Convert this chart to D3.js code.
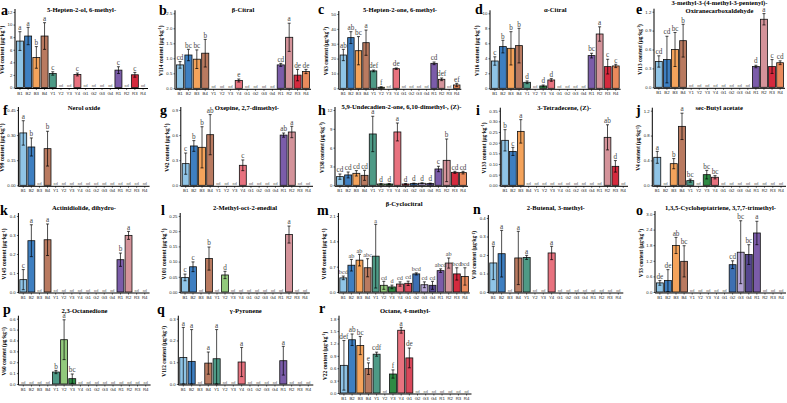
<!DOCTYPE html>
<html>
<head>
<meta charset="utf-8">
<script src="https://cdn.jsdelivr.net/npm/d3@7/dist/d3.min.js"></script>
<style>
  body { margin: 0; background: #fff; }
  svg { display: block; font-family: "Liberation Serif", "Times New Roman", serif; }
</style>
</head>
<body>
<svg id="chart" width="787" height="403"></svg>
<script>
// groups on the x axis of every panel
const groups = ["B1","B2","B3","B4","Y1","Y2","Y3","Y4","G1","G2","G3","G4","R1","R2","R3","R4"];
const groupColors = ["#8fc4e6","#3e7fc1","#f4a35b","#b97a60","#4e9a86","#92c97c","#2e8a44","#e8727f",
                     "#d9475a","#3d6fb2","#b4a4d4","#56478f","#7b5ca9","#d4939a","#d42a3e","#e98a5c"];

const letters = ["a","b","c","d","e","f","g","h","i","j","k","l","m","n","o","p","q","r"];
const titles = [
  ["5-Hepten-2-ol, 6-methyl-"], ["β-Citral"], ["5-Hepten-2-one, 6-methyl-"], ["α-Citral"],
  ["3-methyl-3-(4-methyl-3-pentenyl)-", "Oxiranecarboxaldehyde"],
  ["Nerol oxide"], ["Oxepine, 2,7-dimethyl-"], ["5,9-Undecadien-2-one, 6,10-dimethyl-, (Z)-"],
  ["3-Tetradecene, (Z)-"], ["sec-Butyl acetate"],
  ["Actinidiolide, dihydro-"], ["2-Methyl-oct-2-enedial"], ["β-Cyclocitral"], ["2-Butenal, 3-methyl-"],
  ["1,3,5-Cycloheptatriene, 3,7,7-trimethyl-"],
  ["2,3-Octanedione"], ["γ-Pyronene"], ["Octane, 4-methyl-"]
];
const yCodes = ["V64","V114","V63","V116","V113","V99","V42","V138","V133","V4",
                "V145","V101","V109","V10","V53","V60","V112","V22"];

const yTicks = [
  [0,2,4,6,8,10,12], [0,0.5,1,1.5,2,2.5], [0,10,20,30,40,50], [0,2,4,6,8,10], [0,0.3,0.6,0.9,1.2],
  [0,0.15,0.3,0.45], [0,0.3,0.6,0.9], [0,3,6,9,12], [0,0.05,0.1,0.15,0.2,0.25,0.3,0.35], [0,0.4,0.8,1.2],
  [0,0.1,0.2,0.3,0.4], [0,0.05,0.1,0.15,0.2,0.25], [0,0.7,1.4,2.1], [0,0.1,0.2,0.3,0.4], [0,0.6,1.2,1.8,2.4,3.0],
  [0,0.1,0.2,0.3,0.4,0.5,0.6], [0,0.1,0.2,0.3], [0,0.3,0.6,0.9,1.2,1.5,1.8]
];
const yFormats = ["d",".1f","d","d",".1f", ".2f",".1f","d",".2f",".1f", ".1f",".2f",".1f",".1f",".1f", ".1f",".1f",".1f"];

// means (null = nd), standard deviations and significance letters
const a_mean = [7.38,8.18,4.78,8.18,2.23,null,null,2.07,null,null,null,null,2.76,null,2.02,null];
const a_sd   = [1.49,1.38,1.72,2.12,0.27,0,0,0.23,0,0,0,0,0.54,0,0.38,0];
const a_sig  = ["a","a","b","a","c","","","c","","","","","c","","c",""];

const b_mean = [0.78,1.11,0.97,1.17,null,null,null,0.26,null,null,null,null,0.78,1.70,0.44,0.56];
const b_sd   = [0.11,0.19,0.31,0.46,0,0,0,0.05,0,0,0,0,0.05,0.47,0.19,0.07];
const b_sig  = ["cd","bc","bc","b","","","","e","","","","","cd","a","de","de"];

const c_mean = [22.4,34.1,25.3,30.7,11.7,0.7,null,13.2,null,null,null,null,16.8,6.05,null,2.24];
const c_sd   = [3.8,4.0,9.5,8.5,0.6,0.4,0,0.5,0,0,0,0,0.9,0.9,0,1.1];
const c_sig  = ["ab","ab","bc","a","def","f","","de","","","","","cd","def","","ef"];

const d_mean = [3.64,5.56,5.33,5.69,0.8,null,0.31,1.11,null,null,null,null,4.36,7.24,2.89,2.98];
const d_sd   = [0.56,0.84,2.22,2.31,0.18,0,0.13,0.18,0,0,0,0,0.31,0.96,0.98,0.22];
const d_sig  = ["c","b","b","b","d","","d","d","","","","","bc","a","c","c"];

const e_mean = [0.41,0.44,0.60,0.74,null,null,null,null,null,null,null,null,0.33,1.08,0.33,0.39];
const e_sd   = [0.09,0.37,0.27,0.26,0,0,0,0,0,0,0,0,0.02,0.09,0.11,0.03];
const e_sig  = ["cd","cd","bc","b","","","","","","","","","d","a","c","cd"];

const f_mean = [0.313,0.229,null,0.219,null,null,null,null,null,null,null,null,null,null,null,null];
const f_sd   = [0.073,0.054,0,0.104,0,0,0,0,0,0,0,0,0,0,0,0];
const f_sig  = ["a","b","","b","","","","","","","","","","","",""];

const g_mean = [0.259,0.47,0.454,0.605,null,null,null,0.239,null,null,null,null,0.60,0.637,null,null];
const g_sd   = [0.127,0.064,0.246,0.24,0,0,0,0.064,0,0,0,0,0.025,0.068,0,0];
const g_sig  = ["c","b","b","ab","","","","c","","","","","ab","a","",""];

const h_mean = [1.38,1.65,1.91,1.59,8.18,0.21,0.21,8.5,0.21,0.27,0.32,0.27,2.6,3.98,2.07,2.02];
const h_sd   = [0.42,0.47,0.43,0.8,2.82,0.08,0.08,1.43,0.08,0.08,0.08,0.08,0.43,3.4,0.16,0.21];
const h_sig  = ["cd","cd","cd","cd","a","d","d","a","d","d","d","d","c","b","cd","cd"];

const i_mean = [0.211,0.159,0.253,null,null,null,null,null,null,null,null,null,null,0.225,0.089,null];
const i_sd   = [0.05,0.019,0.055,0,0,0,0,0,0,0,0,0,0,0.059,0.027,0];
const i_sig  = ["b","c","a","","","","","","","","","","","ab","d",""];

const j_mean = [0.45,null,0.348,0.948,0.075,null,0.171,0.129,null,null,null,null,null,null,null,null];
const j_sd   = [0.096,0,0.082,0.212,0.025,0,0.069,0.026,0,0,0,0,0,0,0,0];
const j_sig  = ["a","","b","a","bc","","bc","bc","","","","","","","",""];

const k_mean = [0.065,0.27,null,0.275,null,null,null,null,null,null,null,null,0.17,0.298,null,null];
const k_sd   = [0.053,0.084,0,0.083,0,0,0,0,0,0,0,0,0.035,0.021,0,0];
const k_sig  = ["c","a","","a","","","","","","","","","b","a","",""];

const l_mean = [0.048,0.083,null,0.11,null,0.056,null,null,null,null,null,null,null,0.189,null,null];
const l_sd   = [0.011,0.016,0,0.038,0,0.012,0,0,0,0,0,0,0,0.028,0,0];
const l_sig  = ["c","c","","b","","d","","","","","","","","a","",""];

const m_mean = [0.39,0.74,0.88,0.67,0.99,0.185,0.14,0.22,0.24,0.5,0.2,0.185,0.59,0.8,0.5,0.43];
const m_sd   = [0.05,0.16,0.16,0.25,0.88,0.11,0.05,0.06,0.06,0.03,0.08,0.11,0.05,0.14,0.17,0.24];
const m_sig  = ["bcd","ab","ab","abc","a","cd","d","cd","cd","bcd","cd","cd","abcd","ab","bcd","bcd"];

const n_mean = [0.157,0.207,null,0.184,0.187,null,null,0.211,null,null,null,null,null,null,null,null];
const n_sd   = [0.09,0.126,0,0.144,0.011,0,0,0.036,0,0,0,0,0,0,0,0];
const n_sig  = ["a","a","","a","a","","","a","","","","","","","",""];

const o_mean = [0.35,0.44,1.79,1.18,null,null,null,null,null,1.05,1.53,1.44,2.27,null,null,null];
const o_sd   = [0.09,0.42,0.31,0.6,0,0,0,0,0,0.15,1.21,0.38,0.45,0,0,0];
const o_sig  = ["de","de","ab","bc","","","","","","cd","bc","bc","a","","",""];

const p_mean = [null,null,null,null,0.11,0.407,0.049,null,null,null,null,null,null,null,null,null];
const p_sd   = [0,0,0,0,0.015,0.183,0.043,0,0,0,0,0,0,0,0,0];
const p_sig  = ["","","","","b","a","bc","","","","","","","","",""];

const q_mean = [0.122,0.104,null,0.096,0.116,null,null,0.101,null,null,null,null,0.107,null,null,null];
const q_sd   = [0.138,0.146,0,0.051,0.134,0,0,0.067,0,0,0,0,0.066,0,0,0];
const q_sig  = ["a","a","","a","a","","","a","","","","","a","","",""];

const r_mean = [0.67,1.29,1.15,0.59,0.94,null,0.46,1.52,0.85,null,null,null,null,null,null,null];
const r_sd   = [0.6,0.14,0.22,0.14,0.05,0,0.1,0.07,0.24,0,0,0,0,0,0,0];
const r_sig  = ["def","ab","bc","e","cdf","","f","a","de","","","","","","",""];

const means = [a_mean,b_mean,c_mean,d_mean,e_mean,f_mean,g_mean,h_mean,i_mean,j_mean,k_mean,l_mean,m_mean,n_mean,o_mean,p_mean,q_mean,r_mean];
const sds   = [a_sd,b_sd,c_sd,d_sd,e_sd,f_sd,g_sd,h_sd,i_sd,j_sd,k_sd,l_sd,m_sd,n_sd,o_sd,p_sd,q_sd,r_sd];
const sigs  = [a_sig,b_sig,c_sig,d_sig,e_sig,f_sig,g_sig,h_sig,i_sig,j_sig,k_sig,l_sig,m_sig,n_sig,o_sig,p_sig,q_sig,r_sig];

// layout: plot left, plot right, y of zero, y of top tick, panel letter x/y, title y, letter size
const layout = [
  [15,148,87.5,12, 1,15, 10, 7.2], [175,311,88.3,13.3, 159,15, 10, 7.2], [338.8,461.3,88.3,14, 318,14, 10, 7.2],
  [490,620.6,88.3,13.3, 475,14, 10, 7.2], [654,785,87.3,11.7, 636,14, 3, 7.2],
  [18.4,149.6,185.3,110, 3,115, 108, 7.2], [180.8,313,185.3,110, 160,115, 108, 7.2], [335,468,185.3,110, 318,115, 106.3, 7.2],
  [500.3,628,185.3,110.7, 476,115, 108, 7.2], [652.3,786,185.3,110.7, 636,115, 108, 7.2],
  [18.4,149.6,292,216, 0,215, 208, 7.2], [180.2,309.8,292,216, 161,215, 208, 7.2], [338.4,469.8,292,216, 317,215, 204, 6.2],
  [488.3,623.3,292,218, 473,214, 208, 7.2], [655,786,292,214, 636,215, 208, 7.2],
  [18.4,150.6,384,318.7, 3,314, 311, 7.2], [178.3,313.3,384,318.7, 157,314, 311, 7.2], [339,471.5,393,318.7, 319,313, 310.7, 7.2]
];

const svg = d3.select("#chart");

letters.forEach((id, i) => {
  const [x0, x1, y0, y1, lx, ly, ty, sigSize] = layout[i];
  const ticks = yTicks[i];
  const g = svg.append("g").attr("class", "panel-" + id);

  const x = d3.scaleBand().domain(groups).range([x0, x1]).paddingInner(0.15).paddingOuter(0.175);
  const y = d3.scaleLinear().domain([0, ticks[ticks.length - 1]]).range([y0, y1]);
  const color = d3.scaleOrdinal().domain(groups).range(groupColors);

  const rows = groups.map((k, j) => ({ key: k, mean: means[i][j], sd: sds[i][j], sig: sigs[i][j] }));
  const present = rows.filter(d => d.mean !== null);

  // bars
  g.selectAll("rect.bar").data(present).enter().append("rect")
    .attr("class", "bar")
    .attr("x", d => x(d.key))
    .attr("y", d => y(d.mean))
    .attr("width", x.bandwidth())
    .attr("height", d => y0 - y(d.mean))
    .attr("fill", d => color(d.key))
    .attr("stroke", "#111")
    .attr("stroke-width", 0.8);

  // error bars
  const cx = d => x(d.key) + x.bandwidth() / 2;
  const eb = g.selectAll("g.err").data(present).enter().append("g").attr("class", "err")
    .attr("stroke", "#000").attr("stroke-width", 0.7);
  eb.append("line").attr("x1", cx).attr("x2", cx)
    .attr("y1", d => y(Math.max(0, d.mean - d.sd))).attr("y2", d => y(d.mean + d.sd));
  eb.append("line").attr("x1", d => cx(d) - 1.5).attr("x2", d => cx(d) + 1.5)
    .attr("y1", d => y(d.mean + d.sd)).attr("y2", d => y(d.mean + d.sd));
  eb.append("line").attr("x1", d => cx(d) - 1.5).attr("x2", d => cx(d) + 1.5)
    .attr("y1", d => y(Math.max(0, d.mean - d.sd))).attr("y2", d => y(Math.max(0, d.mean - d.sd)));

  // significance letters
  g.selectAll("text.sig").data(present).enter().append("text")
    .attr("class", "sig")
    .attr("x", cx)
    .attr("y", d => y(d.mean + d.sd) - 1.8)
    .attr("text-anchor", "middle")
    .attr("font-size", sigSize)
    .attr("fill", "#444")
    .text(d => d.sig);

  // nd labels
  g.selectAll("text.nd").data(rows.filter(d => d.mean === null)).enter().append("text")
    .attr("class", "nd")
    .attr("x", cx)
    .attr("y", y0 - 0.3)
    .attr("text-anchor", "middle")
    .attr("font-size", 4.2)
    .attr("fill", "#555")
    .text("nd");

  // axes
  const yAxis = g.append("g")
    .attr("transform", "translate(" + x0 + ",0)")
    .call(d3.axisLeft(y).tickValues(ticks).tickSize(1.5).tickPadding(1.2).tickFormat(d3.format(yFormats[i])));
  yAxis.select(".domain").remove();
  yAxis.selectAll("text").attr("font-size", 4.3).attr("font-family", null).attr("fill", "#222");
  yAxis.selectAll("line").attr("stroke-width", 0.6);

  const xAxis = g.append("g")
    .attr("transform", "translate(0," + (y0 + 1) + ")")
    .call(d3.axisBottom(x).tickSize(1.5).tickPadding(1.5));
  xAxis.select(".domain").remove();
  xAxis.selectAll("text").attr("font-size", 4.3).attr("font-family", null).attr("fill", "#222");
  xAxis.selectAll("line").attr("stroke-width", 0.6);

  g.append("path")
    .attr("d", "M" + x0 + "," + (y1 - 3) + "V" + (y0 + 1) + "H" + x1)
    .attr("fill", "none").attr("stroke", "#000").attr("stroke-width", 1);

  // y title
  const bb = yAxis.node().getBBox();
  const tx = x0 + bb.x - 3.5;
  const yt = g.append("text")
    .attr("transform", "translate(" + tx + "," + ((y0 + y1) / 2) + ") rotate(-90)")
    .attr("text-anchor", "middle")
    .attr("font-size", 5.3)
    .attr("font-weight", "bold");
  yt.append("tspan").text(yCodes[i] + " content (μg·kg");
  yt.append("tspan").attr("dy", -1.6).attr("font-size", 3.8).text("-1");
  yt.append("tspan").attr("dy", 1.6).text(")");

  // panel title
  titles[i].forEach((t, k) => {
    g.append("text")
      .attr("x", (x0 + x1) / 2)
      .attr("y", ty + 2.3 + k * 7.4)
      .attr("text-anchor", "middle")
      .attr("font-size", 6.6)
      .attr("font-weight", "bold")
      .text(t);
  });

  // panel letter
  g.append("text")
    .attr("x", lx)
    .attr("y", ly)
    .attr("font-size", 14)
    .attr("font-weight", "bold")
    .text(id);
});
</script>
</body>
</html>
